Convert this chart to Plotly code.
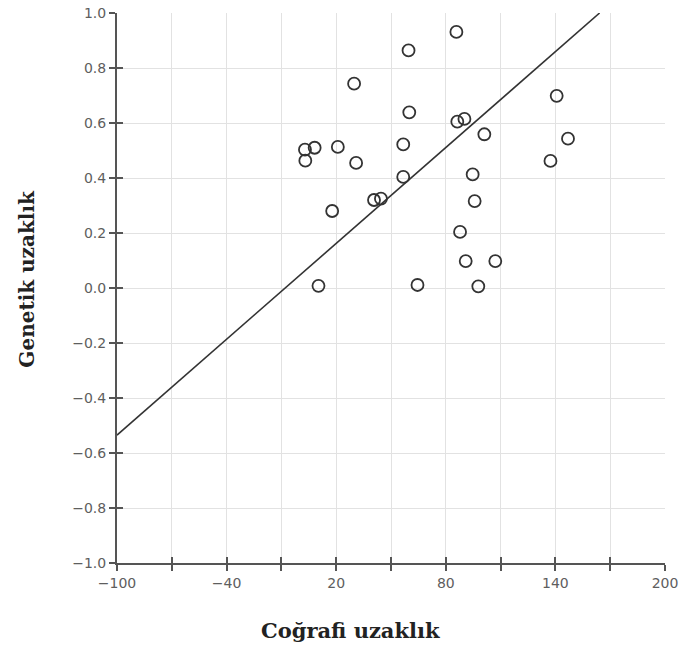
import plotly.graph_objects as go

# Data
cografi = [2.9, 3.1, 8.2, 20.9, 29.8, 30.9, 17.8, 10.3, 40.7, 44.5,
           56.7, 56.7, 59.6, 60.0, 64.5, 85.8, 86.3, 90.2, 101.1, 94.7,
           95.8, 87.8, 90.9, 107.1, 97.8, 140.7, 146.9, 137.3]
genetik = [0.503, 0.463, 0.510, 0.513, 0.743, 0.455, 0.280, 0.008, 0.320, 0.325,
           0.522, 0.404, 0.864, 0.639, 0.011, 0.931, 0.605, 0.615, 0.559, 0.413,
           0.316, 0.204, 0.098, 0.098, 0.006, 0.699, 0.543, 0.462]

fit_intercept = 0.046
fit_slope = 0.00581

x_ticks = [-100, -70, -40, -10, 20, 50, 80, 110, 140, 170, 200]
x_labels = ["−100", "", "−40", "", "20", "", "80", "", "140", "", "200"]
y_ticks = [-1.0, -0.8, -0.6, -0.4, -0.2, 0.0, 0.2, 0.4, 0.6, 0.8, 1.0]
y_labels = ["−1.0", "−0.8", "−0.6", "−0.4", "−0.2", "0.0", "0.2", "0.4", "0.6", "0.8", "1.0"]

x_range = [-100, 200]
y_range = [-1.0, 1.0]

line_x0 = x_range[0]
line_x1 = (y_range[1] - fit_intercept) / fit_slope
line_x = [line_x0, line_x1]
line_y = [fit_intercept + fit_slope * v for v in line_x]

INK = "#333333"
AXIS = "#555555"
TICKFONT = dict(family="DejaVu Sans, sans-serif", size=14, color="#5e5e5e")

fig = go.Figure()
fig.add_trace(go.Scatter(x=line_x, y=line_y, mode="lines",
                         line=dict(color=INK, width=1.6), hoverinfo="skip",
                         showlegend=False, cliponaxis=True))
fig.add_trace(go.Scatter(x=cografi, y=genetik, mode="markers",
                         marker=dict(symbol="circle-open", size=12,
                                     line=dict(color=INK, width=1.8), color=INK),
                         showlegend=False))
# invisible trace to anchor overlay axes (inside tick halves)
fig.add_trace(go.Scatter(x=[x_range[0]], y=[y_range[0]], xaxis="x2", yaxis="y2",
                         mode="markers", marker=dict(opacity=0), showlegend=False,
                         hoverinfo="skip"))

common_grid = dict(showgrid=True, gridcolor="#e2e2e2", gridwidth=1.2,
                   zeroline=False, showline=True, linecolor=AXIS, linewidth=2,
                   ticks="outside", ticklen=6, tickwidth=1.5, tickcolor=AXIS,
                   tickfont=TICKFONT, automargin=False)
overlay_common = dict(showticklabels=False, showgrid=False, zeroline=False,
                      showline=False, ticks="inside", ticklen=6, tickwidth=1.5,
                      tickcolor=AXIS, automargin=False, tickmode="array")

fig.update_layout(
    template="none",
    width=681, height=646,
    margin=dict(l=117, r=16, t=13, b=83),
    paper_bgcolor="white", plot_bgcolor="white",
    xaxis=dict(range=x_range, tickmode="array", tickvals=x_ticks, ticktext=x_labels,
               **common_grid),
    yaxis=dict(range=y_range, tickmode="array", tickvals=y_ticks, ticktext=y_labels,
               **common_grid),
    xaxis2=dict(range=x_range, overlaying="x", anchor="y", side="bottom",
                tickvals=x_ticks, **overlay_common),
    yaxis2=dict(range=y_range, overlaying="y", anchor="x", side="left",
                tickvals=y_ticks, **overlay_common),
    annotations=[
        dict(text="Coğrafi uzaklık", xref="paper", yref="paper", x=0.4255, y=0,
             xanchor="center", yanchor="middle", yshift=-67, showarrow=False,
             font=dict(family="DejaVu Serif, serif", size=21, color="#222222",
                       weight="bold")),
        dict(text="Genetik uzaklık", xref="paper", yref="paper", x=0, y=0.517,
             xanchor="center", yanchor="middle", xshift=-90, showarrow=False,
             textangle=-90,
             font=dict(family="DejaVu Serif, serif", size=20, color="#222222",
                       weight="bold")),
    ],
)

fig.write_html("out.html", config={"displayModeBar": False},
               post_script="document.body.style.margin='0';document.body.style.padding='0';")
